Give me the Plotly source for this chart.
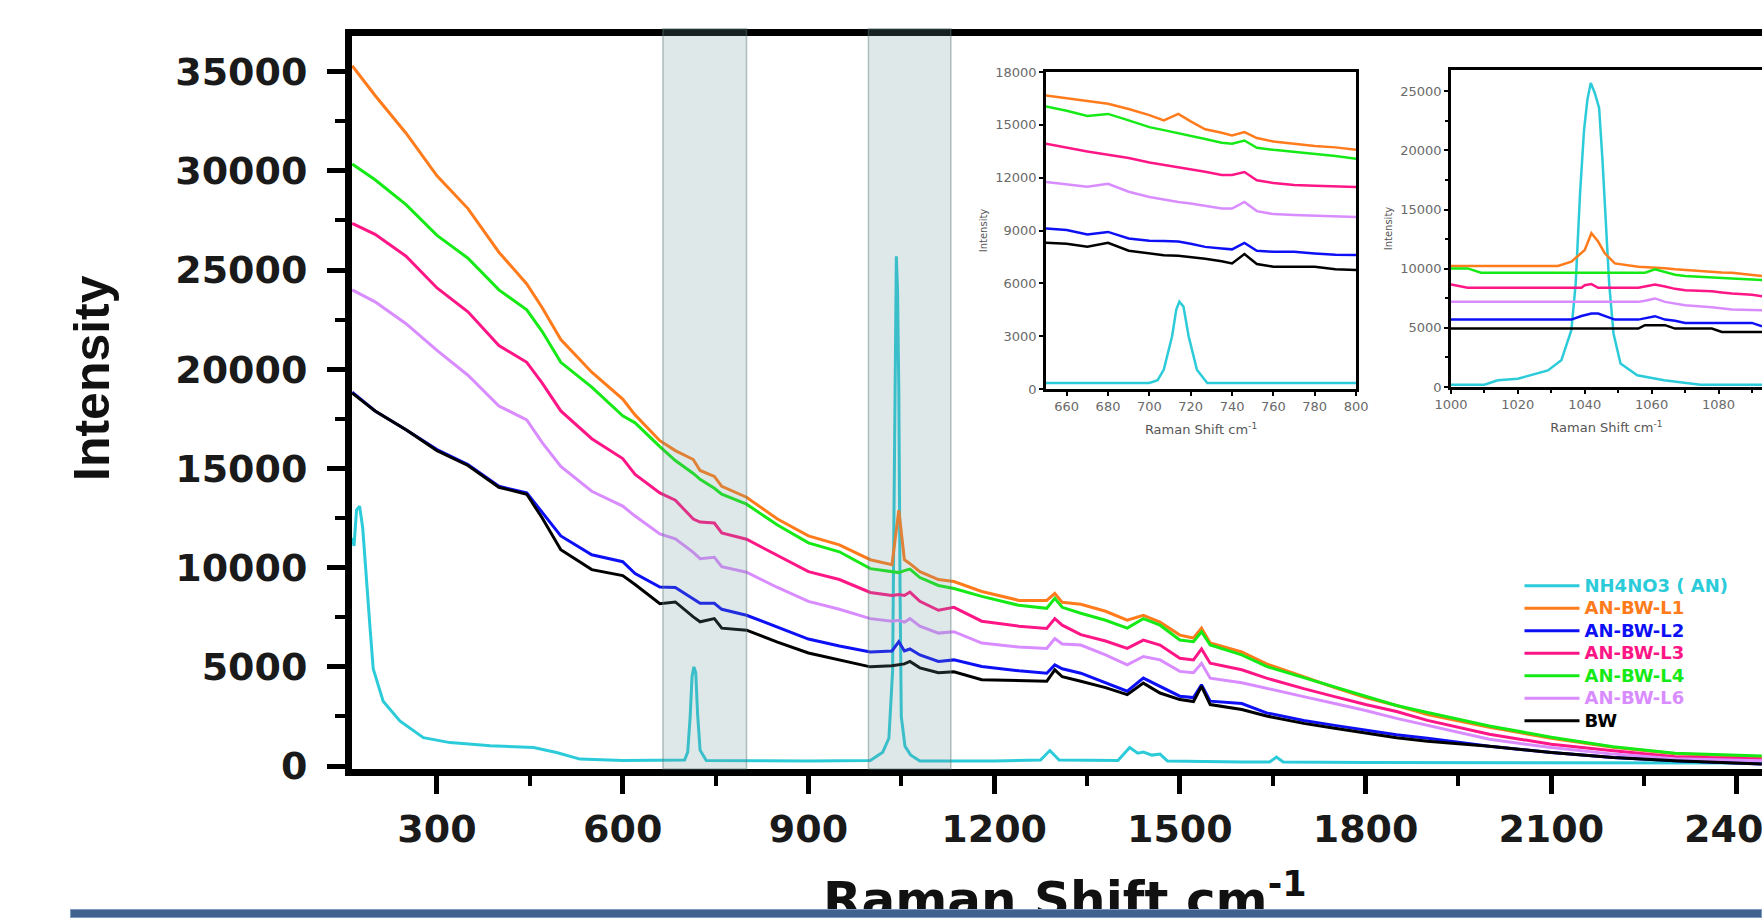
import plotly.graph_objects as go

# ---------------- main chart data ----------------
raman_shift = [163, 200, 250, 300, 350, 400, 445, 470, 500, 550,
               600, 620, 660, 685, 714, 725, 748, 760, 800, 850,
               900, 950, 1000, 1035, 1046, 1055, 1064, 1080, 1110, 1135,
               1180, 1240, 1285, 1298, 1310, 1340, 1380, 1415, 1441, 1468,
               1500, 1522, 1535, 1549, 1600, 1640, 1700, 1750, 1800, 1850,
               1900, 2000, 2100, 2200, 2300, 2440]

an_bw_l1 = [35300, 33800, 31900, 29750, 28100, 25900, 24300, 23100, 21500, 19850,
            18500, 17700, 16400, 15900, 15450, 14900, 14600, 14100, 13550, 12450,
            11600, 11150, 10400, 10150, 12900, 10400, 10200, 9800, 9400, 9300,
            8800, 8350, 8350, 8700, 8250, 8150, 7800, 7350, 7600, 7250,
            6600, 6450, 6950, 6200, 5750, 5150, 4500, 3950, 3450, 3050,
            2600, 1950, 1400, 950, 620, 470]
an_bw_l2 = [18850, 17900, 16950, 15950, 15200, 14100, 13770, 12800, 11600, 10650,
            10300, 9700, 9020, 9000, 8430, 8200, 8200, 7900, 7600, 7000,
            6400, 6050, 5750, 5800, 6270, 5800, 5900, 5600, 5270, 5350,
            5020, 4800, 4680, 5100, 4900, 4680, 4200, 3770, 4430, 4020,
            3520, 3450, 4100, 3270, 3150, 2680, 2300, 2050, 1800, 1580,
            1400, 1000, 680, 430, 270, 100]
an_bw_l3 = [27350, 26800, 25700, 24100, 22900, 21200, 20350, 19300, 17900, 16500,
            15500, 14700, 13770, 13400, 12450, 12300, 12250, 11750, 11430, 10600,
            9800, 9400, 8750, 8600, 8650, 8600, 8770, 8300, 7850, 8000,
            7300, 7050, 6930, 7430, 7100, 6620, 6300, 5930, 6350, 6100,
            5430, 5350, 5900, 5180, 4850, 4430, 3900, 3500, 3100, 2750,
            2300, 1600, 1100, 770, 470, 350]
an_bw_l4 = [30350, 29550, 28300, 26750, 25600, 24000, 23000, 21900, 20350, 19100,
            17650, 17300, 16100, 15400, 14750, 14450, 14000, 13700, 13200, 12150,
            11250, 10800, 9950, 9800, 9750, 9850, 9930, 9500, 9100, 8950,
            8550, 8100, 7950, 8450, 8000, 7700, 7350, 6950, 7430, 7100,
            6350, 6270, 6770, 6100, 5600, 5020, 4450, 4000, 3500, 3050,
            2700, 2020, 1450, 970, 650, 500]
an_bw_l6 = [24000, 23400, 22300, 20950, 19700, 18150, 17450, 16300, 15100, 13850,
            13100, 12600, 11700, 11450, 10770, 10450, 10520, 10050, 9770, 9000,
            8300, 7900, 7430, 7300, 7350, 7250, 7430, 7050, 6700, 6770,
            6200, 6000, 5930, 6430, 6150, 6100, 5600, 5100, 5520, 5350,
            4770, 4700, 5180, 4430, 4200, 3930, 3500, 3150, 2800, 2400,
            2050, 1350, 930, 600, 370, 270]
bw = [18800, 17900, 16950, 15900, 15150, 14050, 13700, 12500, 10900, 9900,
      9600, 9150, 8180, 8270, 7520, 7270, 7430, 6950, 6850, 6250,
      5700, 5350, 5000, 5050, 5100, 5150, 5270, 4950, 4700, 4750,
      4350, 4300, 4270, 4850, 4500, 4270, 3950, 3600, 4180, 3680,
      3350, 3250, 4020, 3100, 2850, 2520, 2150, 1900, 1650, 1420,
      1250, 1000, 680, 430, 270, 100]

an_shift = [163, 166, 170, 175, 180, 186, 192, 197, 213, 240,
            278, 321, 386, 456, 493, 531, 600, 700, 705, 709,
            712, 715, 718, 721, 725, 735, 800, 900, 1000, 1020,
            1030, 1036, 1038, 1040, 1042, 1044, 1046, 1048, 1050, 1056,
            1065, 1080, 1200, 1275, 1290, 1305, 1400, 1419, 1432, 1441,
            1455, 1468, 1480, 1600, 1645, 1656, 1667, 1800, 2000, 2200,
            2440]
an_nh4no3 = [11500, 11100, 12900, 13100, 12000, 9300, 6900, 4900, 3270, 2270,
             1430, 1180, 1020, 930, 680, 350, 280, 300, 700, 2500,
             4500, 5000, 4700, 2600, 800, 280, 260, 250, 280, 700,
             1400, 4800, 12000, 21700, 25700, 24000, 19000, 9000, 2500, 1000,
             560, 250, 250, 300, 780, 300, 280, 930, 650, 700,
             550, 600, 250, 200, 200, 450, 200, 180, 170, 160,
             150]

# shaded regions (Raman shift)
band_ranges = [(665, 800), (997, 1130)]

# ---------------- inset 1 data (650-800 cm-1) ----------------
inset1_shift = [650, 660, 670, 680, 690, 700, 707, 714, 720, 727,
                735, 740, 746, 752, 760, 770, 780, 790, 800]
inset1_l1 = [16660, 16500, 16350, 16200, 15900, 15550, 15250, 15620, 15200, 14750,
             14550, 14400, 14590, 14250, 14050, 13920, 13800, 13720, 13585]
inset1_l4 = [16040, 15800, 15500, 15620, 15250, 14870, 14700, 14530, 14400, 14200,
             13980, 13925, 14110, 13700, 13580, 13470, 13350, 13230, 13075]
inset1_l3 = [13925, 13700, 13480, 13300, 13120, 12860, 12720, 12600, 12500, 12330,
             12150, 12150, 12320, 11850, 11700, 11580, 11540, 11500, 11470]
inset1_l6 = [11750, 11600, 11480, 11650, 11200, 10900, 10750, 10620, 10530, 10400,
             10250, 10250, 10620, 10100, 9930, 9880, 9830, 9800, 9770]
inset1_l2 = [9110, 9030, 8780, 8920, 8550, 8420, 8400, 8370, 8250, 8070,
             7980, 7930, 8300, 7850, 7790, 7790, 7700, 7620, 7605]
inset1_bw = [8300, 8250, 8080, 8300, 7850, 7700, 7600, 7560, 7500, 7400,
             7250, 7130, 7660, 7100, 6945, 6945, 6945, 6800, 6755]
inset1_an_shift = [650, 700, 704, 707, 711, 713, 714.5, 716.5, 719, 723, 728, 800]
inset1_an = [340, 340, 500, 1100, 3000, 4500, 4960, 4680, 3000, 1100, 340, 340]

# ---------------- inset 2 data (1000-1093 cm-1) ----------------
inset2_shift = [1000, 1005, 1009, 1020, 1032, 1036, 1039, 1040, 1042, 1044,
                1046, 1049, 1056, 1058, 1061, 1064, 1067, 1070, 1078, 1081,
                1084, 1090, 1093]
inset2_l1 = [10230, 10230, 10230, 10230, 10230, 10590, 11300, 11580, 13000, 12300,
             11300, 10450, 10170, 10150, 10120, 10050, 9950, 9880, 9700, 9680,
             9660, 9450, 9380]
inset2_l4 = [10030, 10030, 9660, 9660, 9660, 9660, 9660, 9660, 9660, 9660,
             9660, 9660, 9660, 9660, 9945, 9750, 9500, 9380, 9300, 9250,
             9180, 9100, 9040]
inset2_l3 = [8670, 8390, 8390, 8390, 8390, 8390, 8390, 8600, 8700, 8390,
             8390, 8390, 8390, 8500, 8670, 8500, 8300, 8190, 8100, 8000,
             7910, 7800, 7680]
inset2_l6 = [7200, 7200, 7200, 7200, 7200, 7200, 7200, 7200, 7200, 7200,
             7200, 7200, 7200, 7300, 7490, 7200, 7050, 6920, 6750, 6650,
             6560, 6520, 6500]
inset2_l2 = [5700, 5700, 5700, 5700, 5700, 5700, 6000, 6070, 6210, 6210,
             6000, 5700, 5700, 5800, 5990, 5700, 5600, 5420, 5420, 5420,
             5420, 5420, 5140]
inset2_bw = [4940, 4940, 4940, 4940, 4940, 4940, 4940, 4940, 4940, 4940,
             4940, 4940, 4940, 5230, 5230, 5230, 4940, 4940, 4940, 4660,
             4660, 4660, 4660]
inset2_an_shift = [1000, 1010, 1014, 1020, 1029, 1033, 1036, 1037.3, 1038.6, 1039.8,
                   1040.8, 1041.8, 1043, 1044.3, 1045.3, 1046.3, 1047.3, 1048.6, 1050.7, 1055.7,
                   1063.7, 1074.6, 1093]
inset2_an = [200, 200, 565, 700, 1400, 2260, 4800, 8760, 16380, 21750,
             24300, 25700, 24860, 23590, 19200, 14400, 8760, 4520, 1980, 990,
             565, 200, 200]

series_names = ["NH4NO3 ( AN)", "AN-BW-L1", "AN-BW-L2", "AN-BW-L3", "AN-BW-L4", "AN-BW-L6", "BW"]
series_colors = ["#2ccbd9", "#ff7b1c", "#0d10f5", "#ff1686", "#16ea16", "#d98cff", "#000000"]

main_samples = [an_bw_l1, an_bw_l2, an_bw_l3, an_bw_l4, an_bw_l6, bw]
inset1_samples = [inset1_l1, inset1_l2, inset1_l3, inset1_l4, inset1_l6, inset1_bw]
inset2_samples = [inset2_l1, inset2_l2, inset2_l3, inset2_l4, inset2_l6, inset2_bw]

fig = go.Figure()

def legend_label(name, color):
    return f"<span style='color:{color};font-size:18px'>{name}</span>"

# main traces
fig.add_trace(go.Scatter(x=an_shift, y=an_nh4no3, mode="lines",
                         line=dict(color=series_colors[0], width=3),
                         name=legend_label(series_names[0], series_colors[0])))
for name, color, ys in zip(series_names[1:], series_colors[1:], main_samples):
    fig.add_trace(go.Scatter(x=raman_shift, y=ys, mode="lines",
                             line=dict(color=color, width=3),
                             name=legend_label(name, color)))

# inset 1 traces
fig.add_trace(go.Scatter(x=inset1_an_shift, y=inset1_an, mode="lines", xaxis="x2", yaxis="y2",
                         line=dict(color=series_colors[0], width=2.5), showlegend=False))
for color, ys in zip(series_colors[1:], inset1_samples):
    fig.add_trace(go.Scatter(x=inset1_shift, y=ys, mode="lines", xaxis="x2", yaxis="y2",
                             line=dict(color=color, width=2.5), showlegend=False))

# inset 2 traces
fig.add_trace(go.Scatter(x=inset2_an_shift, y=inset2_an, mode="lines", xaxis="x3", yaxis="y3",
                         line=dict(color=series_colors[0], width=2.5), showlegend=False))
for color, ys in zip(series_colors[1:], inset2_samples):
    fig.add_trace(go.Scatter(x=inset2_shift, y=ys, mode="lines", xaxis="x3", yaxis="y3",
                             line=dict(color=color, width=2.5), showlegend=False))

TICK_FONT = dict(family="DejaVu Sans", size=38, color="#1a1a1a", weight="bold")
INSET_TICK_FONT = dict(family="DejaVu Sans", size=13, color="#6a6a6a")

main_axis_common = dict(showline=True, linewidth=7, linecolor="black", mirror=True,
                        ticks="outside", ticklen=18, tickwidth=5, tickcolor="black",
                        showgrid=False, zeroline=False, tickformat="d",
                        tickfont=TICK_FONT, automargin=False)

inset_axis_common = dict(showline=True, linewidth=2.5, linecolor="black", mirror=True,
                         ticks="outside", ticklen=4, tickwidth=1.5, tickcolor="black",
                         showgrid=False, zeroline=False, tickformat="d",
                         tickfont=INSET_TICK_FONT, automargin=False)

fig.update_layout(
    template="none",
    width=1762, height=918, autosize=False,
    margin=dict(l=352, r=0, t=36, b=149, pad=0),
    paper_bgcolor="white", plot_bgcolor="white",
    xaxis=dict(domain=[0, 1], range=[162.7, 2440.4], tick0=0, dtick=300,
               minor=dict(dtick=150, ticks="outside", ticklen=10, tickwidth=4, tickcolor="black"),
               ticklabelstandoff=2, ticklabeloverflow="allow",
               **main_axis_common),
    yaxis=dict(domain=[0, 1], range=[-150, 36800], tick0=0, dtick=5000,
               minor=dict(dtick=2500, ticks="outside", ticklen=10, tickwidth=4, tickcolor="black"),
               ticklabelstandoff=12,
               **main_axis_common),
    xaxis2=dict(domain=[0.4922, 0.7121], anchor="y2", range=[650, 800], tick0=660, dtick=20,
                title=dict(text="Raman Shift cm<sup>-1</sup>", standoff=12,
                           font=dict(family="DejaVu Sans", size=13, color="#555555")),
                **inset_axis_common),
    yaxis2=dict(domain=[0.5184, 0.9509], anchor="x2", range=[0, 18000], tick0=0, dtick=3000,
                title=dict(text="Intensity", standoff=6,
                           font=dict(family="DejaVu Sans", size=10, color="#555555")),
                **inset_axis_common),
    xaxis3=dict(domain=[0.7794, 1.0], anchor="y3", range=[1000, 1093], tick0=1000, dtick=20,
                minor=dict(dtick=10, ticks="outside", ticklen=3, tickwidth=1.5, tickcolor="black"),
                title=dict(text="Raman Shift cm<sup>-1</sup>", standoff=12,
                           font=dict(family="DejaVu Sans", size=13, color="#555555")),
                **inset_axis_common),
    yaxis3=dict(domain=[0.5211, 0.9536], anchor="x3", range=[0, 26800], tick0=0, dtick=5000,
                minor=dict(dtick=2500, ticks="outside", ticklen=3, tickwidth=1.5, tickcolor="black"),
                title=dict(text="Intensity", standoff=6,
                           font=dict(family="DejaVu Sans", size=10, color="#555555")),
                **inset_axis_common),
    showlegend=True,
    legend=dict(x=0.828, y=0.272, xanchor="left", yanchor="top",
                bgcolor="rgba(0,0,0,0)", borderwidth=0,
                font=dict(family="DejaVu Sans", size=15, weight="bold"),
                itemwidth=55, tracegroupgap=0, traceorder="normal"),
)

# shaded bands
for x0, x1 in band_ranges:
    fig.add_shape(type="rect", xref="x", yref="paper", x0=x0, x1=x1, y0=0, y1=1.01,
                  fillcolor="rgba(110,150,150,0.22)",
                  line=dict(color="rgba(90,120,120,0.45)", width=1.5), layer="above")

# main axis titles
fig.add_annotation(text="Intensity", textangle=-90, xref="paper", yref="paper",
                   x=-0.1844, y=0.5334, xanchor="center", yanchor="middle", showarrow=False,
                   font=dict(family="Liberation Sans", size=50, color="#111111", weight="bold"))
fig.add_annotation(text="Raman Shift cm<sup>-1</sup>", xref="paper", yref="paper",
                   x=0.5057, y=-0.1269, xanchor="center", yanchor="top", showarrow=False,
                   font=dict(family="DejaVu Sans", size=50, color="#111111", weight="bold"))

# blue bar at the bottom of the picture (drawn last so it covers the title's lower edge)
fig.add_annotation(text=" ", xref="paper", yref="paper", x=0.4, y=-0.1971,
                   xanchor="center", yanchor="middle", showarrow=False,
                   width=1690, height=7, borderpad=0, borderwidth=1,
                   bgcolor="#41618f", bordercolor="#7d9ac2", font=dict(size=4))

fig.write_html("out.html")
